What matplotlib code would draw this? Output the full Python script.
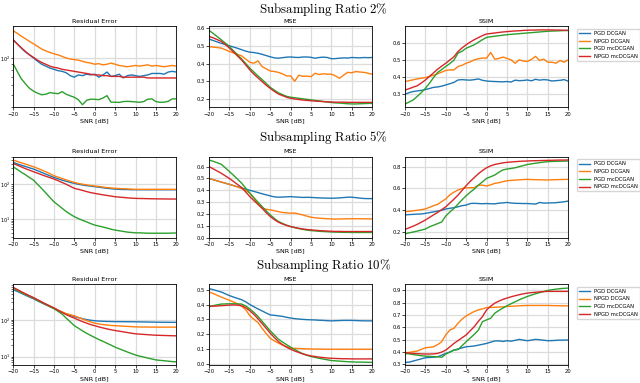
import matplotlib
matplotlib.use("Agg")
import matplotlib.pyplot as plt
import numpy as np
from matplotlib.ticker import NullFormatter, LogLocator

plt.rcParams["mathtext.fontset"] = "cm"

snr = list(range(-20, 21))
methods = ["PGD DCGAN", "NPGD DCGAN", "PGD mcDCGAN", "NPGD mcDCGAN"]
colors = ["#1f77b4", "#ff7f0e", "#2ca02c", "#d62728"]
ratios = ["2", "5", "10"]
metric_titles = ["Residual Error", "MSE", "SSIM"]

# ---- subsampling ratio 2% ----
res2_pgd_dc = [140, 130, 120, 112, 106, 100, 94, 89, 86, 83, 81, 79, 78, 76, 72, 70, 73, 72, 74, 73, 74,
               70, 73, 77, 71, 72, 74, 69, 72, 73, 72, 71, 72, 73, 75, 75, 75, 74, 77, 78, 77]
res2_npgd_dc = [166, 158, 150, 143, 136, 130, 124, 118, 114, 111, 108, 106, 103, 100, 98, 97, 96, 94, 92, 91, 89,
                90, 88, 89, 91, 89, 87, 86, 85, 86, 87, 86, 87, 88, 86, 87, 86, 85, 86, 87, 86]
res2_pgd_mc = [90, 78, 68, 62, 57, 54, 52, 50.5, 51, 52.5, 52, 51.5, 53.5, 51, 49.5, 48.2, 46, 42, 45.5, 46.5, 46.4,
               46.1, 47.5, 49.7, 44, 44, 43.8, 44.5, 44.7, 44.5, 44.2, 43.9, 44.5, 46.5, 46.8, 44.5, 43.9, 44, 44.7, 46.8, 46.8]
res2_npgd_mc = [140, 130, 121, 113, 106, 101, 96, 92, 89, 86, 84, 83, 81, 80, 79, 78, 77, 76, 75, 74, 73,
                73, 72, 72, 71, 71, 71, 70, 70, 70, 70, 70, 70, 69, 69, 69, 69, 69, 69, 69, 69]

mse2_pgd_dc = [.538, .530, .522, .514, .507, .500, .493, .486, .478, .470, .464, .462, .458, .452, .445, .438, .432, .430, .433, .436, .437,
               .435, .434, .437, .437, .435, .430, .434, .436, .434, .427, .428, .430, .432, .431, .434, .433, .432, .434, .433, .434]
mse2_npgd_dc = [.496, .493, .490, .487, .478, .468, .460, .452, .443, .425, .407, .402, .415, .383, .370, .358, .355, .350, .342, .330, .330,
                .300, .334, .328, .329, .326, .345, .338, .342, .340, .340, .330, .317, .335, .350, .348, .355, .352, .350, .345, .340]
mse2_pgd_mc = [.587, .570, .552, .534, .515, .496, .472, .449, .425, .400, .374, .352, .330, .310, .288, .266, .250, .235, .225, .215, .210,
               .207, .204, .201, .198, .195, .192, .189, .186, .183, .180, .178, .177, .175, .173, .172, .172, .173, .174, .175, .175]
mse2_npgd_mc = [.553, .545, .535, .525, .507, .487, .465, .442, .420, .392, .364, .340, .319, .298, .278, .260, .243, .228, .219, .210, .204,
                .200, .197, .194, .192, .190, .188, .187, .185, .184, .183, .182, .182, .182, .181, .181, .181, .181, .181, .181, .181]

ssim2_pgd_dc = [.300, .310, .316, .320, .323, .328, .334, .341, .343, .348, .355, .362, .370, .384, .386, .384, .383, .386, .390, .382, .378,
                .376, .375, .374, .373, .375, .372, .383, .380, .381, .384, .379, .388, .383, .386, .384, .378, .380, .382, .386, .377]
ssim2_npgd_dc = [.375, .380, .385, .390, .394, .398, .405, .412, .420, .430, .440, .443, .443, .463, .470, .482, .490, .502, .508, .512, .512,
                 .545, .506, .510, .518, .510, .502, .482, .502, .495, .492, .505, .522, .498, .506, .488, .488, .482, .498, .488, .502]
ssim2_pgd_mc = [.243, .255, .267, .288, .310, .335, .365, .398, .428, .445, .463, .480, .500, .541, .552, .570, .580, .590, .605, .620, .633,
                .637, .640, .643, .646, .649, .651, .653, .655, .657, .659, .661, .663, .665, .667, .669, .670, .671, .672, .673, .673]
ssim2_npgd_mc = [.325, .333, .342, .350, .366, .384, .405, .426, .447, .465, .482, .501, .520, .550, .572, .590, .606, .620, .632, .644, .653,
                 .656, .659, .662, .665, .667, .669, .671, .672, .674, .675, .676, .676, .677, .677, .677, .677, .676, .676, .675, .675]

# ---- subsampling ratio 5% ----
res5_pgd_dc = [430, 392, 358, 328, 301, 277, 248, 222, 198, 177, 159, 145, 133, 123, 114, 107, 101, 96, 92, 89, 86,
               83, 80, 77, 75, 73, 72, 71, 71, 70, 70, 70, 70, 70, 70, 70, 70, 70, 70, 70, 70]
res5_npgd_dc = [503, 460, 420, 385, 352, 323, 290, 260, 232, 204, 178, 162, 148, 135, 124, 114, 107, 101, 97, 93, 90,
                87, 84, 81, 79, 77, 76, 75, 74, 73, 72, 72, 72, 72, 72, 72, 72, 72, 72, 72, 72]
res5_pgd_mc = [323, 270, 225, 190, 158, 133, 100, 76, 57, 42, 31.6, 25.5, 20.5, 16.5, 13.8, 11.7, 10.3, 9.2, 8.3, 7.4, 6.7,
               6.3, 5.9, 5.5, 5.1, 4.8, 4.6, 4.4, 4.2, 4.1, 4.0, 4.0, 3.95, 3.9, 3.9, 3.9, 3.9, 3.9, 3.9, 3.95, 3.95]
res5_npgd_mc = [404, 360, 320, 285, 257, 232, 210, 190, 172, 157, 143, 128, 114, 101, 88, 77, 72, 67, 62, 58, 55,
                52.5, 50, 48, 46, 44, 43, 42, 41, 40, 39.5, 39.2, 39, 38.7, 38.5, 38.3, 38.1, 38, 37.9, 37.8, 37.8]

mse5_pgd_dc = [.500, .490, .480, .470, .460, .450, .440, .430, .420, .410, .400, .391, .381, .371, .362, .353, .345, .342, .343, .345, .347,
               .344, .342, .340, .341, .340, .338, .336, .335, .334, .333, .334, .336, .339, .342, .342, .338, .334, .331, .330, .330]
mse5_npgd_dc = [.500, .490, .480, .470, .460, .450, .440, .428, .415, .398, .378, .335, .285, .250, .240, .235, .228, .220, .213, .210, .207,
                .208, .200, .192, .182, .173, .168, .165, .162, .160, .158, .157, .158, .159, .160, .160, .160, .160, .159, .159, .159]
mse5_pgd_mc = [.656, .645, .633, .620, .590, .558, .527, .494, .460, .418, .375, .337, .300, .263, .227, .193, .163, .137, .120, .105, .094,
               .085, .077, .070, .064, .060, .057, .054, .052, .050, .048, .047, .046, .045, .045, .044, .044, .044, .044, .044, .044]
mse5_npgd_mc = [.600, .582, .563, .544, .522, .500, .475, .449, .423, .386, .347, .313, .281, .249, .212, .179, .153, .131, .116, .104, .094,
                .086, .079, .074, .069, .066, .063, .060, .058, .056, .054, .053, .053, .052, .052, .052, .052, .052, .052, .052, .052]

ssim5_pgd_dc = [.355, .358, .360, .362, .364, .369, .376, .383, .390, .398, .410, .416, .422, .430, .440, .446, .460, .462, .460, .458, .460,
                .458, .457, .463, .466, .470, .465, .462, .461, .460, .460, .458, .455, .470, .464, .465, .466, .468, .472, .476, .483]
ssim5_npgd_dc = [.383, .388, .393, .398, .403, .410, .425, .440, .452, .478, .502, .540, .565, .585, .598, .605, .606, .606, .628, .630, .622,
                 .632, .646, .652, .662, .670, .673, .676, .679, .681, .683, .681, .680, .679, .678, .677, .679, .680, .681, .682, .683]
ssim5_pgd_mc = [.180, .190, .197, .206, .215, .225, .245, .260, .275, .290, .345, .382, .415, .455, .495, .532, .565, .594, .630, .660, .692,
                .707, .723, .748, .770, .778, .783, .790, .800, .810, .820, .826, .832, .837, .842, .846, .848, .849, .850, .851, .852]
ssim5_npgd_mc = [.222, .236, .251, .268, .288, .308, .332, .355, .378, .404, .430, .465, .500, .538, .582, .625, .665, .700, .735, .765, .790,
                 .808, .820, .828, .835, .840, .843, .846, .849, .851, .852, .854, .855, .856, .857, .858, .859, .860, .861, .861, .862]

# ---- subsampling ratio 10% ----
res10_pgd_dc = [660, 590, 525, 465, 415, 370, 325, 287, 255, 228, 205, 180, 160, 144, 132, 123, 114, 107, 101, 97, 94,
                92, 91, 90, 89.5, 89, 88.8, 88.6, 88.4, 88.2, 88, 87.6, 87.2, 86.8, 86.4, 86, 85.8, 85.6, 85.4, 85.2, 85]
res10_npgd_dc = [730, 640, 560, 495, 440, 390, 345, 303, 266, 235, 208, 183, 163, 147, 137, 128, 116, 105, 95, 87, 81,
                 77, 74, 72, 70, 69, 68, 67, 66, 65, 64, 63.8, 63.6, 63.4, 63.2, 63, 63, 63, 63, 63, 63]
res10_pgd_mc = [730, 640, 560, 495, 440, 390, 340, 297, 260, 228, 200, 170, 143, 111, 88, 69, 59, 50, 43, 37.5, 33,
                29, 26, 23, 20.5, 18, 16.3, 14.7, 13.3, 12.1, 11, 10.3, 9.7, 9.1, 8.6, 8.1, 7.9, 7.7, 7.5, 7.3, 7.2]
res10_npgd_mc = [760, 665, 580, 510, 450, 400, 350, 305, 268, 237, 210, 182, 158, 138, 123, 111, 99, 89, 81, 74, 69,
                 64, 60, 56.5, 53.5, 51, 49, 47, 45, 43, 41.5, 40.7, 40, 39.3, 38.6, 38, 37.7, 37.4, 37.1, 36.8, 36.6]

mse10_pgd_dc = [.507, .500, .492, .484, .472, .460, .450, .441, .432, .418, .400, .385, .370, .357, .343, .330, .327, .324, .320, .314, .309,
                .305, .302, .300, .298, .297, .296, .294, .293, .291, .290, .291, .292, .293, .293, .293, .292, .291, .290, .290, .290]
mse10_npgd_dc = [.484, .474, .462, .450, .439, .428, .417, .405, .388, .365, .325, .300, .279, .240, .205, .173, .155, .140, .127, .117, .106,
                 .105, .104, .103, .102, .101, .100, .100, .100, .099, .099, .099, .099, .099, .099, .099, .099, .099, .099, .099, .099]
mse10_pgd_mc = [.387, .392, .398, .403, .404, .405, .405, .404, .403, .390, .370, .347, .320, .287, .255, .223, .195, .167, .148, .130, .113,
                .097, .082, .068, .058, .050, .044, .038, .033, .028, .023, .021, .019, .017, .015, .014, .013, .012, .012, .011, .011]
mse10_npgd_mc = [.387, .389, .390, .392, .394, .396, .397, .396, .392, .378, .358, .333, .304, .272, .240, .207, .178, .151, .130, .113, .099,
                 .087, .077, .068, .060, .054, .050, .046, .043, .040, .038, .037, .036, .035, .035, .034, .034, .034, .034, .034, .034]

ssim10_pgd_dc = [.316, .318, .327, .336, .345, .354, .356, .358, .362, .375, .389, .400, .416, .425, .434, .443, .446, .449, .456, .463, .470,
                 .480, .490, .491, .486, .492, .488, .495, .503, .497, .492, .497, .503, .500, .496, .492, .493, .495, .497, .497, .498]
ssim10_npgd_dc = [.395, .397, .403, .408, .422, .435, .438, .443, .460, .484, .539, .579, .593, .634, .668, .693, .712, .729, .742, .750, .761,
                  .762, .763, .765, .767, .770, .771, .773, .775, .777, .778, .778, .778, .778, .778, .778, .777, .776, .776, .775, .775]
ssim10_pgd_mc = [.389, .385, .380, .375, .370, .367, .365, .363, .362, .357, .384, .400, .416, .420, .452, .484, .514, .544, .579, .647, .661,
                 .674, .715, .737, .757, .775, .792, .808, .824, .838, .851, .862, .873, .882, .891, .900, .905, .910, .914, .917, .919]
ssim10_npgd_mc = [.395, .392, .389, .387, .385, .384, .384, .385, .389, .400, .416, .442, .470, .493, .516, .539, .573, .607, .650, .688, .742,
                  .772, .797, .813, .827, .838, .848, .857, .865, .872, .878, .882, .885, .888, .890, .892, .892, .892, .892, .892, .892]

panels = [
    [[res2_pgd_dc, res2_npgd_dc, res2_pgd_mc, res2_npgd_mc],
     [mse2_pgd_dc, mse2_npgd_dc, mse2_pgd_mc, mse2_npgd_mc],
     [ssim2_pgd_dc, ssim2_npgd_dc, ssim2_pgd_mc, ssim2_npgd_mc]],
    [[res5_pgd_dc, res5_npgd_dc, res5_pgd_mc, res5_npgd_mc],
     [mse5_pgd_dc, mse5_npgd_dc, mse5_pgd_mc, mse5_npgd_mc],
     [ssim5_pgd_dc, ssim5_npgd_dc, ssim5_pgd_mc, ssim5_npgd_mc]],
    [[res10_pgd_dc, res10_npgd_dc, res10_pgd_mc, res10_npgd_mc],
     [mse10_pgd_dc, mse10_npgd_dc, mse10_pgd_mc, mse10_npgd_mc],
     [ssim10_pgd_dc, ssim10_npgd_dc, ssim10_pgd_mc, ssim10_npgd_mc]],
]

ylims = [
    [(40, 180), (0.153, 0.61), (0.224, 0.698)],
    [(2.9, 630), (0.0, 0.684), (0.145, 0.892)],
    [(5.9, 937), (-0.007, 0.538), (0.295, 0.952)],
]

fig = plt.figure(figsize=(6.4, 3.83), dpi=100)

col_left = [0.0205, 0.3266, 0.6328]
row_bottom = [0.7198, 0.3794, 0.047]
w, h = 0.2550, 0.2115
title_y = [0.975, 0.642, 0.307]

for r in range(3):
    fig.text(0.505, title_y[r], r"$\mathrm{Subsampling\ Ratio\ %s\%%}$" % ratios[r],
             ha="center", va="center", fontsize=9.3)
    for c in range(3):
        ax = fig.add_axes([col_left[c], row_bottom[r], w, h])
        for k in range(4):
            ax.plot(snr, panels[r][c][k], color=colors[k], linewidth=1.0, label=methods[k])
        if c == 0:
            ax.set_yscale("log")
            ax.yaxis.set_minor_formatter(NullFormatter())
            ax.yaxis.set_major_locator(LogLocator(base=10))
        ax.set_xlim(-20, 20)
        ax.set_ylim(*ylims[r][c])
        ax.set_xticks(range(-20, 21, 5))
        ax.grid(True, color="#dcdcdc", linewidth=0.9)
        ax.set_axisbelow(True)
        ax.set_title(metric_titles[c], fontsize=4.6, pad=2.5)
        ax.set_xlabel("SNR [dB]", fontsize=4.6, labelpad=1)
        ax.tick_params(labelsize=3.8, length=2, width=0.5, pad=1.2)
        ax.tick_params(which="minor", length=1.2, width=0.4)
        if c == 0:
            ax.tick_params(axis="y", which="both", length=1.2, pad=0.6, labelsize=3.6)
        for s in ax.spines.values():
            s.set_linewidth(0.6)
        if c == 2:
            ax.legend(loc="upper left", bbox_to_anchor=(1.04, 1.0), fontsize=3.8,
                      frameon=True, fancybox=True, handlelength=2.0, borderaxespad=0.5)

fig.savefig("out.png", dpi=100)
